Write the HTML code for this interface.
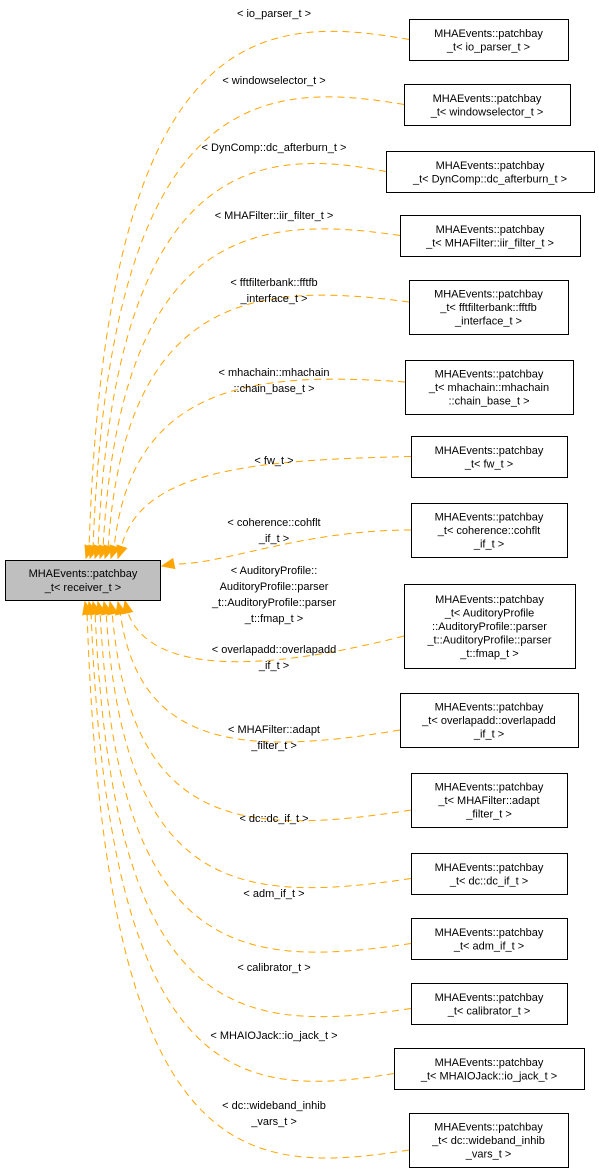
<!DOCTYPE html>
<html><head><meta charset="utf-8">
<style>
body{margin:0;background:#fff;}
svg{display:block;font-family:"Liberation Sans",Helvetica,sans-serif;}
</style></head>
<body>
<svg id="g" width="599" height="1176" viewBox="0 0 599 1176"></svg>
<script>
const NS="http://www.w3.org/2000/svg";
const svg=document.getElementById('g');
// node boxes: [x,y,w,h,lines]
const nodeBoxes=[
[409,19,159,41,["MHAEvents::patchbay","_t< io_parser_t >"]],
[404,84,166,41,["MHAEvents::patchbay","_t< windowselector_t >"]],
[386,151,208,41,["MHAEvents::patchbay","_t< DynComp::dc_afterburn_t >"]],
[400,215,180,41,["MHAEvents::patchbay","_t< MHAFilter::iir_filter_t >"]],
[409,280,159,54,["MHAEvents::patchbay","_t< fftfilterbank::fftfb","_interface_t >"]],
[405,360,168,54,["MHAEvents::patchbay","_t< mhachain::mhachain","::chain_base_t >"]],
[411,436,156,41,["MHAEvents::patchbay","_t< fw_t >"]],
[411,503,156,54,["MHAEvents::patchbay","_t< coherence::cohflt","_if_t >"]],
[404,584,171,84,["MHAEvents::patchbay","_t< AuditoryProfile","::AuditoryProfile::parser","_t::AuditoryProfile::parser","_t::fmap_t >"]],
[400,693,178,54,["MHAEvents::patchbay","_t< overlapadd::overlapadd","_if_t >"]],
[411,773,156,54,["MHAEvents::patchbay","_t< MHAFilter::adapt","_filter_t >"]],
[411,853,156,41,["MHAEvents::patchbay","_t< dc::dc_if_t >"]],
[411,918,156,41,["MHAEvents::patchbay","_t< adm_if_t >"]],
[411,983,156,41,["MHAEvents::patchbay","_t< calibrator_t >"]],
[394,1048,190,41,["MHAEvents::patchbay","_t< MHAIOJack::io_jack_t >"]],
[409,1113,159,54,["MHAEvents::patchbay","_t< dc::wideband_inhib","_vars_t >"]]
];
const edgeLabels=[
[["< io_parser_t >"],13],
[["< windowselector_t >"],80],
[["< DynComp::dc_afterburn_t >"],147],
[["< MHAFilter::iir_filter_t >"],215],
[["< fftfilterbank::fftfb","_interface_t >"],282],
[["< mhachain::mhachain","::chain_base_t >"],372],
[["< fw_t >"],460],
[["< coherence::cohflt","_if_t >"],522],
[["< AuditoryProfile::","AuditoryProfile::parser","_t::AuditoryProfile::parser","_t::fmap_t >"],570],
[["< overlapadd::overlapadd","_if_t >"],649],
[["< MHAFilter::adapt","_filter_t >"],729],
[["< dc::dc_if_t >"],818],
[["< adm_if_t >"],893],
[["< calibrator_t >"],967],
[["< MHAIOJack::io_jack_t >"],1035],
[["< dc::wideband_inhib","_vars_t >"],1105]
];
// edge end points on main node
const edgeEnds=[[86,558],[90,558],[95,558],[100,558],[105,558],[111,558],[118,558],[162,566],[125,601],[118,602],[110,602],[104,602],[98,602],[93,602],[89,602],[85,602]];
function el(t,a,p){const e=document.createElementNS(NS,t);for(const k in a)e.setAttribute(k,a[k]);(p||svg).appendChild(e);return e;}
function txt(lines,cx,y0,lh,name){
  lines.forEach((l,i)=>{const t=el('text',{x:cx,y:y0+i*lh,'text-anchor':'middle','font-size':'11',fill:'#000'});
  
  
  t.textContent=l;});
}
nodeBoxes.forEach((n,i)=>{
  const [x,y,w,h,lines]=n;
  const by=y+h/2;
  const [ex,ey]=edgeEnds[i];
  let d;
  if(ey<580 && ex<150){
    const top=edgeLabels[i][1]+8;
    d=`M${x},${by-(h>45?5:0)} C${260},${top-8} ${ex+20},${top} ${ex+3},${ey-9}`;
  } else if(ex>=150){
    d=`M${x},${by} C300,${by} 220,${ey} ${ex+10},${ey-2}`;
  } else {
    const bot=by+h/2;
    d=`M${x},${by+(h>45?10:5)} C${240},${bot+10} ${ex+20},${bot} ${ex+2},${ey+9}`;
  }
  const p=el('path',{d:d,fill:'none',stroke:'#ffa500','stroke-width':1,'stroke-dasharray':'7,5'});
  
  
  let ax,ay,ang;
  if(ex>=150){ax=ex;ay=ey;ang=Math.atan2(-2,10);}
  else if(ey<580){ax=ex;ay=ey;ang=Math.atan2(-9,3);}
  else{ax=ex;ay=ey;ang=Math.atan2(9,2);}
  const L=12,W=5,bx=ax+L*Math.cos(ang),bY=ay+L*Math.sin(ang);
  const px=-Math.sin(ang)*W,py=Math.cos(ang)*W;
  const a=el('polygon',{points:`${ax},${ay} ${bx+px},${bY+py} ${bx-px},${bY-py}`,fill:'#ffa500',stroke:'#ffa500'});
  
  
  const r=el('rect',{x:x+0.5,y:y+0.5,width:w,height:h,fill:'#fff',stroke:'#000','stroke-width':1});
  
  
  const lh=13.5,y0=y+h/2-(lines.length-1)*lh/2+4;
  txt(lines,x+w/2,y0,lh,'node-label');
  txt(edgeLabels[i][0],274,edgeLabels[i][1]+4,16,'edge-label');
});
const m=el('rect',{x:5.5,y:560.5,width:155,height:40,fill:'#bfbfbf',stroke:'#000','stroke-width':1});


txt(["MHAEvents::patchbay","_t< receiver_t >"],83,577,14,'base-node-label');
</script>
</body></html>
